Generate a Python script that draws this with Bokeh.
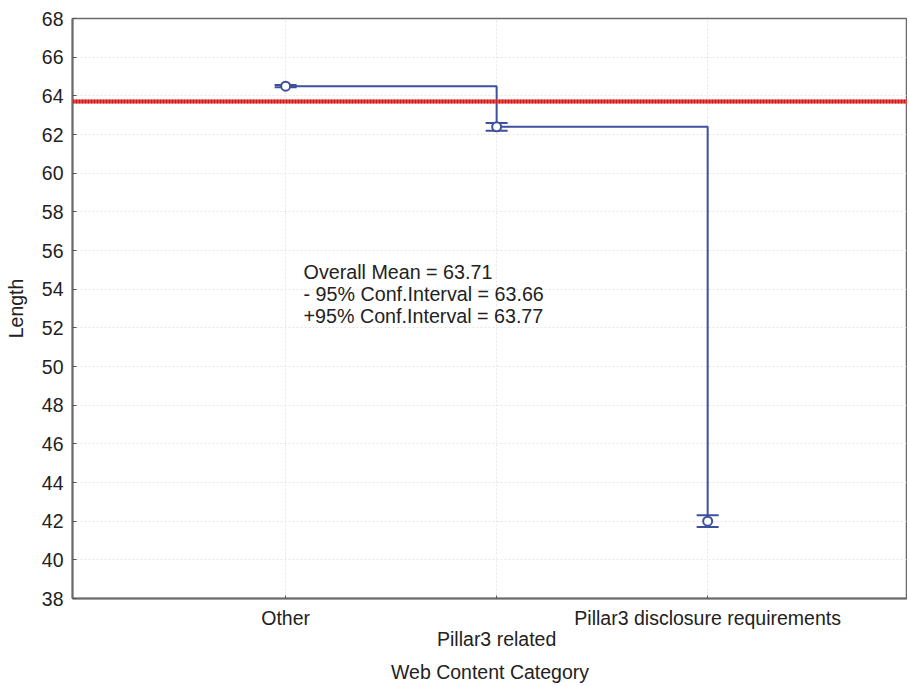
from bokeh.plotting import figure
from bokeh.models import (Range1d, FixedTicker, LinearAxis, Span, Label, ColumnDataSource, Whisker)
from bokeh.embed import file_html
from bokeh.resources import INLINE

# ---- data ----
categories = ["Other", "Pillar3 related", "Pillar3 disclosure requirements"]
cat_pos = [1, 2, 3]
means = [64.5, 62.4, 42.0]
err_half = [0.06, 0.2, 0.3]
overall_mean = 63.71
ci_low = 63.66
ci_high = 63.77
y_ticks = list(range(38, 69, 2))

FONT = "Liberation Sans"
BLUE = "#3d4f9f"
FS = "19.5px"

p = figure(frame_width=835, frame_height=580, output_backend="svg", toolbar_location=None,
           x_range=Range1d(-0.01, 3.947), y_range=Range1d(38, 68),
           min_border_left=72, min_border_right=0, min_border_top=18, min_border_bottom=86,
           x_axis_location=None, y_axis_location=None)
p.outline_line_color = "#6a6a6a"
p.outline_line_width = 1.5
p.background_fill_color = "white"

# y axis
yax = LinearAxis(ticker=FixedTicker(ticks=y_ticks), axis_label="Length")
yax.major_label_text_font = FONT
yax.major_label_text_font_size = FS
yax.major_label_text_color = "#222222"
yax.major_label_standoff = 9
yax.major_tick_in = 4
yax.major_tick_out = 0
yax.minor_tick_line_color = None
yax.axis_line_color = "#6a6a6a"
yax.axis_line_width = 2
yax.major_tick_line_color = "#555555"
yax.axis_label_text_font = FONT
yax.axis_label_text_font_size = FS
yax.axis_label_text_font_style = "normal"
yax.axis_label_text_color = "#222222"
yax.axis_label_standoff = 12
p.add_layout(yax, "left")

# primary x axis (Other, Pillar3 disclosure requirements)
xax = LinearAxis(ticker=FixedTicker(ticks=cat_pos))
xax.major_label_overrides = {cat_pos[0]: categories[0], cat_pos[1]: " ", cat_pos[2]: categories[2]}
xax.major_label_text_font = FONT
xax.major_label_text_font_size = FS
xax.major_label_text_color = "#222222"
xax.major_label_standoff = 8
xax.major_tick_in = 3
xax.major_tick_out = 0
xax.minor_tick_line_color = None
xax.axis_line_color = "#6a6a6a"
xax.axis_line_width = 2
xax.major_tick_line_color = "#555555"
p.add_layout(xax, "below")

# secondary x axis for staggered label + title
xax2 = LinearAxis(ticker=FixedTicker(ticks=[cat_pos[1]]), axis_label="Web Content Category")
xax2.major_label_overrides = {cat_pos[1]: categories[1]}
xax2.major_label_text_font = FONT
xax2.major_label_text_font_size = FS
xax2.major_label_text_color = "#222222"
xax2.major_label_standoff = -4
xax2.major_tick_in = 0
xax2.major_tick_out = 0
xax2.minor_tick_line_color = None
xax2.major_tick_line_color = None
xax2.axis_line_color = None
xax2.axis_label_text_font = FONT
xax2.axis_label_text_font_size = FS
xax2.axis_label_text_font_style = "normal"
xax2.axis_label_text_color = "#222222"
xax2.axis_label_standoff = 8
p.add_layout(xax2, "below")

# grids
p.xgrid.ticker = FixedTicker(ticks=cat_pos)
p.ygrid.ticker = FixedTicker(ticks=y_ticks)
for g in (p.xgrid, p.ygrid):
    g.grid_line_color = "#e6e6e6"
    g.grid_line_dash = "2 2"
    g.grid_line_width = 1

# overall mean line
p.add_layout(Span(location=overall_mean, dimension="width", line_color="#f07070", line_width=4))
p.add_layout(Span(location=overall_mean, dimension="width", line_color="#d01818", line_width=4,
                  line_dash="2 1"))

# step connector
p.step(x=cat_pos, y=means, mode="after", line_color=BLUE, line_width=2)

# error bars
src = ColumnDataSource(dict(x=cat_pos, y=means,
                            lo=[m - e for m, e in zip(means, err_half)],
                            hi=[m + e for m, e in zip(means, err_half)]))
w = Whisker(source=src, base="x", upper="hi", lower="lo", line_color=BLUE, line_width=2)
w.upper_head.size = 22
w.lower_head.size = 22
w.upper_head.line_color = BLUE
w.lower_head.line_color = BLUE
w.upper_head.line_width = 2
w.lower_head.line_width = 2
p.add_layout(w)

p.scatter(x="x", y="y", source=src, marker="circle", size=9, fill_color="white",
          line_color=BLUE, line_width=2)

# annotation text
lines = [f"Overall Mean = {overall_mean:.2f}",
         f"- 95% Conf.Interval = {ci_low:.2f}",
         f"+95% Conf.Interval = {ci_high:.2f}"]
for i, t in enumerate(lines):
    p.add_layout(Label(x=1.085, y=54.89 - i * 1.138, text=t, text_font=FONT, text_font_size="19.7px",
                       text_color="#222222", text_baseline="middle", text_align="left"))

open("out.html", "w").write(file_html(p, INLINE))
